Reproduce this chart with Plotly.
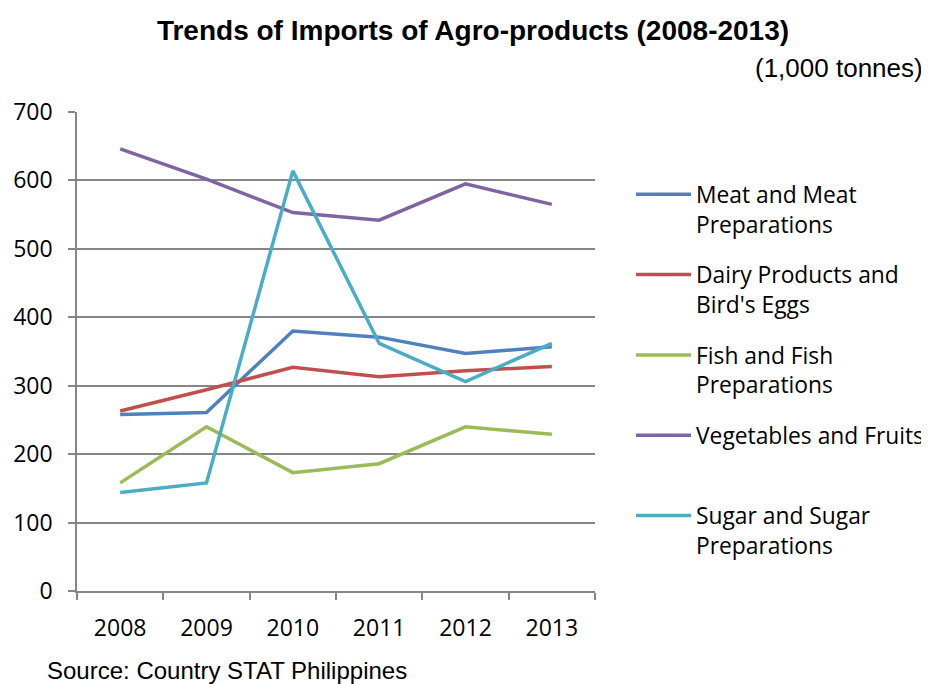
import plotly.graph_objects as go

years = ["2008", "2009", "2010", "2011", "2012", "2013"]
meat = [258, 261, 380, 371, 347, 357]
dairy = [263, 294, 327, 313, 322, 328]
fish = [158, 240, 173, 186, 240, 229]
veg = [646, 602, 553, 542, 595, 565]
sugar = [144, 158, 614, 362, 306, 362]

names = ["Meat and Meat<br>Preparations", "Dairy Products and<br>Bird's Eggs",
         "Fish and Fish<br>Preparations", "Vegetables and Fruits<br> ",
         "Sugar and Sugar<br>Preparations"]
colors = ["#4F81BD", "#C0504D", "#9BBB59", "#8064A2", "#4BACC6"]
series = [meat, dairy, fish, veg, sugar]

# page puts the figure 8px in from the corner, so work in shifted pixels
OFF = 8
W, H = 929 - OFF, 684 - OFF
L, R, T, B = 77 - OFF, 595 - OFF, 112 - OFF, 591 - OFF

fig = go.Figure()
for i, (vals, name, col) in enumerate(zip(series, names, colors)):
    fig.add_trace(go.Scatter(x=years, y=vals, mode="lines", name=name,
                             legendgroup=str(i),
                             line=dict(color=col, width=3.5)))

def px_x(p):
    return (p - OFF - L) / (R - L)

def px_y(p):
    return (B - (p - OFF)) / (B - T)

grey = "#868686"
tick_font = dict(family="Open Sans", size=23, color="black")

fig.update_layout(
    width=W, height=H,
    margin=dict(l=L, r=W - R, t=T, b=H - B, autoexpand=False),
    plot_bgcolor="white", paper_bgcolor="white",
    title=dict(text="<b>Trends of Imports of Agro-products (2008-2013)</b>",
               x=(473 - OFF) / W, xanchor="center", y=1 - (30 - OFF) / H,
               yanchor="middle",
               font=dict(family="Liberation Sans, Arial", size=28, color="black")),
    xaxis=dict(type="category", range=[-0.5, 5.5], showline=True,
               linecolor=grey, linewidth=1.5,
               ticks="outside", tickson="boundaries", ticklen=7, tickcolor=grey,
               tickwidth=1.5, showgrid=False, tickfont=tick_font,
               ticklabelstandoff=16),
    yaxis=dict(range=[0, 700], dtick=100, showline=True, linecolor=grey,
               linewidth=1.5, ticks="outside", ticklen=7, tickcolor=grey,
               tickwidth=1.5, showgrid=True, gridcolor=grey, gridwidth=1.5,
               zeroline=False, tickfont=tick_font, ticklabelstandoff=11),
    legend=dict(x=px_x(631), xanchor="left", y=px_y(173), yanchor="top",
                font=dict(family="Open Sans", size=22.8, color="black"),
                valign="top", tracegroupgap=18, itemwidth=55,
                bgcolor="rgba(0,0,0,0)"),
    annotations=[
        dict(text="(1,000 tonnes)", xref="paper", yref="paper",
             x=px_x(925), y=px_y(68), xanchor="right", yanchor="middle",
             showarrow=False,
             font=dict(family="Liberation Sans, Arial", size=26, color="black")),
        dict(text="Source: Country STAT Philippines", xref="paper", yref="paper",
             x=px_x(45), y=px_y(670), xanchor="left", yanchor="middle",
             showarrow=False,
             font=dict(family="Liberation Sans, Arial", size=24, color="black")),
    ],
)

fig.write_html("out.html")
